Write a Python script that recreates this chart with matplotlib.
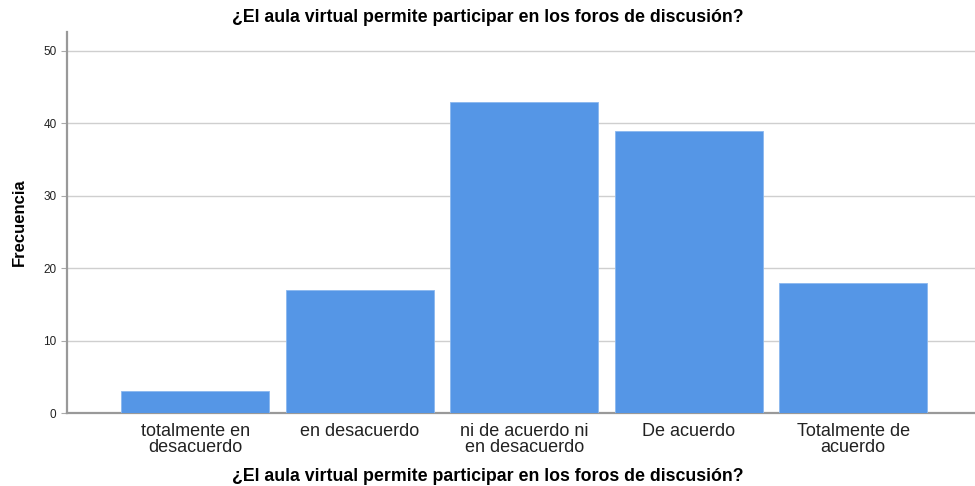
import matplotlib
matplotlib.use("Agg")
import matplotlib.pyplot as plt

categories = ["totalmente en\ndesacuerdo", "en desacuerdo", "ni de acuerdo ni\nen desacuerdo",
              "De acuerdo", "Totalmente de\nacuerdo"]
counts = [3, 17, 43, 39, 18]
yticks = [0, 10, 20, 30, 40, 50]
title = "¿El aula virtual permite participar en los foros de discusión?"

plt.rcParams["font.family"] = ["Liberation Sans", "DejaVu Sans"]

fig = plt.figure(figsize=(9.75, 4.86), dpi=100)
ax = fig.add_axes([0.0687, 0.150, 0.9313, 0.784])

x = list(range(len(categories)))
ax.bar(x, counts, width=0.9, color="#5596E6", edgecolor="#8ab8ef", linewidth=0.6, zorder=3)

ax.set_xlim(-0.78, 4.74)
ax.set_ylim(0, 52.6)
ax.set_yticks(yticks)
ax.set_xticks(x)
ax.set_xticklabels(categories, fontsize=13, color="#222222", linespacing=0.95)
ax.tick_params(axis="y", labelsize=8.5, colors="#222222", length=4, width=0.8, color="#aaaaaa")
ax.tick_params(axis="x", length=0, pad=7)
ax.yaxis.grid(True, color="#cfcfcf", linewidth=1.0, zorder=0)

for s in ["top", "right"]:
    ax.spines[s].set_visible(False)
for s in ["left", "bottom"]:
    ax.spines[s].set_color("#999999")
    ax.spines[s].set_linewidth(1.6)

ax.set_ylabel("Frecuencia", fontsize=12, fontweight="bold",
              family=["Liberation Sans Narrow", "Liberation Sans", "DejaVu Sans"], labelpad=12)
fig.text(0.5, 0.963, title, ha="center", va="center", fontsize=12.8, fontweight="bold")
fig.text(0.5, 0.020, title, ha="center", va="center", fontsize=12.8, fontweight="bold")

fig.savefig("out.png", dpi=100)
